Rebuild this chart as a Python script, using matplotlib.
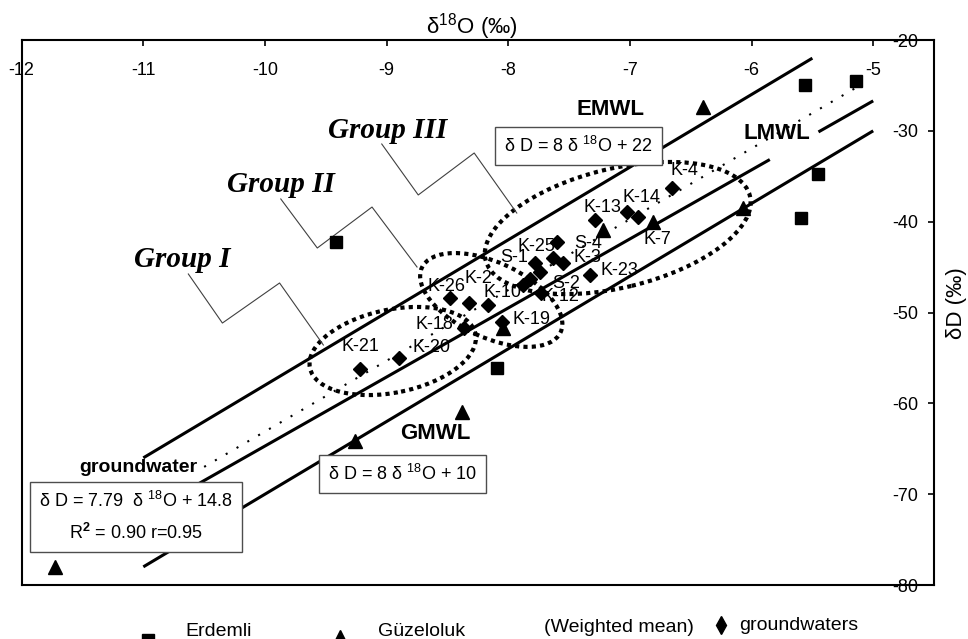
import matplotlib
matplotlib.use("Agg")
import matplotlib.pyplot as plt
import matplotlib.transforms as mtransforms
from matplotlib.patches import Ellipse
from matplotlib.lines import Line2D
import numpy as np

plt.rcParams["font.family"] = "Liberation Sans"
plt.rcParams["mathtext.fontset"] = "custom"
plt.rcParams["mathtext.rm"] = "Liberation Sans"
plt.rcParams["mathtext.it"] = "Liberation Sans:italic"
plt.rcParams["mathtext.bf"] = "Liberation Sans:bold"
plt.rcParams["axes.unicode_minus"] = False

# ======================================================
# DATA (d18O, dD in permil)
# ======================================================
# Erdemli station (weighted mean rain)
erdemli_o18 = [-9.42, -5.56, -5.14, -5.45, -5.59, -8.09]
erdemli_dD = [-42.2, -25.0, -24.5, -34.8, -39.6, -56.1]

# Guzeloluk station (weighted mean rain)
guzeloluk_o18 = [-6.40, -6.07, -6.81, -7.22, -8.04, -8.38, -9.26, -11.73]
guzeloluk_dD = [-27.4, -38.5, -40.0, -40.9, -51.7, -60.9, -64.2, -78.0]

# groundwaters
gw_names = ["K-21", "K-20", "K-18", "K-26", "K-2", "K-10", "K-19", "K-12",
            "S-2", "S-1", "", "", "K-25", "S-4", "K-3", "K-23", "K-13",
            "K-14", "", "K-4"]
gw_o18 = [-9.22, -8.90, -8.36, -8.48, -8.32, -8.17, -8.05, -7.73,
          -7.88, -7.78, -7.74, -7.82, -7.60, -7.63, -7.55, -7.33, -7.29,
          -7.02, -6.93, -6.65]
gw_dD = [-56.2, -55.0, -51.7, -48.4, -49.0, -49.2, -51.0, -47.9,
         -47.0, -44.6, -45.5, -46.3, -42.2, -44.0, -44.6, -45.9, -39.8,
         -38.9, -39.5, -36.3]

# meteoric water lines: slope, intercept
gmwl = (8.0, 10.0)
emwl = (8.0, 22.0)
lmwl = (7.6, 11.3)
gw_fit = (7.79, 14.8)

# ======================================================
# LAYOUT
# ======================================================
fig = plt.figure(figsize=(9.68, 6.39), dpi=100)
ax = fig.add_axes([0.0224, 0.0845, 0.9425, 0.8529])
ax.set_xlim(-12, -4.5)
ax.set_ylim(-80, -20)

def mwl(ax, params, x0, x1, **kw):
    xs = np.array([x0, x1])
    ax.plot(xs, params[0] * xs + params[1], **kw)

solid = dict(color="black", lw=2.2, solid_capstyle="butt", zorder=2)
mwl(ax, emwl, -11, -5.5, **solid)
mwl(ax, gmwl, -11, -5.0, **solid)
mwl(ax, lmwl, -11, -5.85, **solid)
mwl(ax, lmwl, -5.45, -5.0, **solid)
mwl(ax, gw_fit, -10.5, -5.15, color="black", lw=1.5, ls=(0, (1, 5)), zorder=2)

# dotted group envelopes: centre (data), width/height (inch), angle (deg)
groups = [((-8.95, -54.24), 1.69, 0.83, 11.6),
          ((-8.14, -48.62), 1.53, 0.75, -25.0),
          ((-7.10, -40.70), 2.72, 1.19, 13.6)]
for (cx, cy), w, h, ang in groups:
    tr = fig.dpi_scale_trans + mtransforms.ScaledTranslation(cx, cy, ax.transData)
    ax.add_patch(Ellipse((0, 0), w, h, angle=ang, transform=tr, fill=False,
                         ec="black", lw=3, ls=(0, (1, 1)), zorder=2))

# group call-outs
callouts = {
    "Group I": ((-10.68, -44.99), [-10.63, -10.35, -9.88, -9.52], [-45.76, -51.16, -46.75, -53.58]),
    "Group II": ((-9.87, -36.73), [-9.87, -9.57, -9.12, -8.75], [-37.50, -42.90, -38.39, -44.99]),
    "Group III": ((-8.99, -30.79), [-9.04, -8.74, -8.28, -7.93], [-31.45, -37.06, -32.44, -39.05]),
}
for name, (pos, lx, ly) in callouts.items():
    ax.plot(lx, ly, color="0.25", lw=0.8, zorder=2)
    ax.text(pos[0], pos[1], name, ha="center", va="baseline", fontsize=21,
            family="Liberation Serif", weight="bold", style="italic")

# points
ax.plot(gw_o18, gw_dD, ls="none", marker="D", ms=7.5, color="black", zorder=3)
ax.plot(erdemli_o18, erdemli_dD, ls="none", marker="s", ms=9, color="black", zorder=3)
ax.plot(guzeloluk_o18, guzeloluk_dD, ls="none", marker="^", ms=9.5, color="black", zorder=4)

label_offsets = {
    "K-21": (0.7, 15.8), "K-20": (23.8, 7.2), "K-18": (-21.6, 2.2),
    "K-26": (-2.2, 7.9), "K-2": (6.5, 18.0), "K-10": (10.8, 9.4),
    "K-19": (20.9, 1.4), "K-12": (13.7, -2.2), "S-2": (31.0, 1.4),
    "S-1": (-15.1, 4.3), "K-25": (-14.4, -3.6), "S-4": (25.2, 10.8),
    "K-3": (17.3, 4.3), "K-23": (21.6, 3.6), "K-13": (5.8, 8.6),
    "K-14": (10.1, 10.1), "K-4": (8.6, 13.0),
}
for n, x, y in zip(gw_names, gw_o18, gw_dD):
    if n:
        ax.annotate(n, (x, y), xytext=label_offsets[n], textcoords="offset points",
                    ha="center", va="center", fontsize=13, zorder=5)
ax.annotate("K-7", (guzeloluk_o18[2], guzeloluk_dD[2]), xytext=(2.9, -13),
            textcoords="offset points", ha="center", va="center", fontsize=13, zorder=5)

# line names
for txt, x, y in [("EMWL", -7.16, -27.6), ("LMWL", -5.79, -30.24), ("GMWL", -8.60, -63.27)]:
    ax.text(x, y, txt, ha="center", va="center", fontsize=16, weight="bold", zorder=5)
ax.text(-11.04, -67.1, "groundwater", ha="center", va="center", fontsize=14, weight="bold", zorder=5)

# equation boxes
box = dict(boxstyle="square,pad=0.5", fc="white", ec="0.3", lw=1)
ax.text(-7.42, -31.67, r"δ D = 8 δ $^{18}$O + 22", ha="center", va="center",
        fontsize=13, bbox=box, zorder=6)
ax.text(-8.87, -67.78, r"δ D = 8 δ $^{18}$O + 10", ha="center", va="center",
        fontsize=13, bbox=box, zorder=6)
ax.text(-11.06, -72.52, "δ D = 7.79  δ $^{18}$O + 14.8\nR$^{\\mathbf{2}}$ = 0.90 r=0.95",
        ha="center", va="center", multialignment="center", linespacing=1.7,
        fontsize=13, bbox=box, zorder=6)

# axes styling
ax.set_xticks(np.arange(-12, -4, 1))
ax.set_yticks(np.arange(-80, -19, 10))
ax.tick_params(axis="x", top=True, bottom=False, labeltop=True, labelbottom=False,
               direction="in", length=4, width=1.2, pad=-28, labelsize=13)
ax.tick_params(axis="y", left=False, right=True, labelleft=False, labelright=True,
               direction="in", length=4, width=1.2, pad=-30, labelsize=13)
for s in ax.spines.values():
    s.set_linewidth(1.5)

ax.xaxis.set_label_position("top")
ax.set_xlabel(r"δ$^{18}$O (‰)", fontsize=16)
ax.xaxis.set_label_coords(0.4936, 1.012)
ax.yaxis.set_label_position("right")
ax.set_ylabel("δD (‰)", fontsize=16)
ax.yaxis.set_label_coords(1.0132, 0.5174)

# legend row at the bottom
W, H = 968.0, 639.0
for mk, ms, px, py in [("s", 9, 148, 640), ("^", 9.5, 340, 636.5), ("d", 8.7, 721, 625)]:
    fig.add_artist(Line2D([px / W], [1 - py / H], marker=mk, ms=ms, color="black",
                          ls="none", transform=fig.transFigure))
for txt, px, py in [("Erdemli", 185, 636), ("Güzeloluk", 378, 636.5),
                    ("(Weighted mean)", 544, 632), ("groundwaters", 739, 630)]:
    fig.text(px / W, 1 - py / H, txt, fontsize=14, va="baseline", ha="left")

fig.savefig("out.png", dpi=100)
